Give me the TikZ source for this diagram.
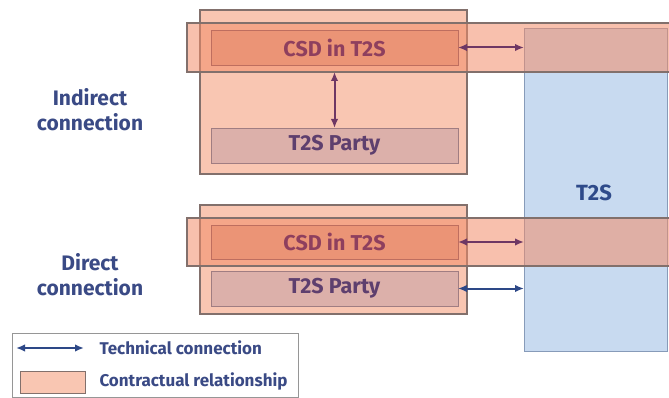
\documentclass[tikz,border=0pt]{standalone}
\usepackage{fontspec}
\setmainfont{Fira Sans}
\usetikzlibrary{arrows.meta,fit}
\definecolor{outerfill}{RGB}{249,198,178}
\definecolor{outerline}{RGB}{130,112,108}
\definecolor{bandfill}{RGB}{242,140,105}
\definecolor{csdfill}{RGB}{235,148,118}
\definecolor{csdline}{RGB}{190,110,95}
\definecolor{csdtext}{RGB}{142,63,94}
\definecolor{partyfill}{RGB}{220,176,170}
\definecolor{partyline}{RGB}{160,125,130}
\definecolor{partytext}{RGB}{94,63,110}
\definecolor{tfill}{RGB}{200,218,240}
\definecolor{tline}{RGB}{135,155,185}
\definecolor{ttext}{RGB}{46,74,138}
\definecolor{labtext}{RGB}{58,74,133}
\definecolor{arrblue}{RGB}{45,72,135}
\definecolor{arrpurple}{RGB}{110,55,100}
\definecolor{legline}{RGB}{150,150,150}
\tikzset{
  boxbase/.style={inner sep=0pt, outer sep=0pt, rectangle},
  outerbox/.style={boxbase, fill=outerfill, draw=outerline, line width=1.2pt},
  bandbox/.style={boxbase, fill=bandfill, fill opacity=0.55, draw=outerline, draw opacity=1, line width=1.2pt},
  csdbox/.style={boxbase, fill=csdfill, draw=csdline, line width=0.8pt},
  partybox/.style={boxbase, fill=partyfill, draw=partyline, line width=0.8pt},
  tbox/.style={boxbase, fill=tfill, draw=tline, line width=1pt},
  legbox/.style={boxbase, fill=white, draw=legline, line width=0.8pt},
  swatch/.style={boxbase, fill=outerfill, draw=outerline, line width=0.8pt},
  csdlabel/.style={font=\bfseries\fontsize{21.5}{24}\selectfont, text=csdtext},
  partylabel/.style={font=\bfseries\fontsize{21.5}{24}\selectfont, text=partytext},
  sidelabel/.style={font=\bfseries\fontsize{21}{25}\selectfont, text=labtext, align=center},
  tlabel/.style={font=\bfseries\fontsize{22}{24}\selectfont, text=ttext},
  leglabel/.style={font=\bfseries\fontsize{17}{19}\selectfont, text=labtext, anchor=west},
  techarrow/.style={{Latex[length=9pt,width=7.5pt]}-{Latex[length=9pt,width=7.5pt]}, line width=2pt},
}
\begin{document}
\begin{tikzpicture}[x=1pt,y=-1pt]
\useasboundingbox (0,0) rectangle (669,398);
% outer contractual boxes
\node[outerbox, fit={(200,10) (467,174)}] (io) {};
\node[outerbox, fit={(200,205) (467,314)}] (do) {};
% T2S
\node[tbox, fit={(524,29) (667,351)}] (t2s) {};
\node[tlabel] (t2slab) at (594,193) {T2S};
% bands
\node[bandbox, fit={(187,23) (690,72)}] (band1) {};
\node[bandbox, fit={(187,218) (690,266)}] (band2) {};
% inner boxes
\node[csdbox, fit={(211,30) (458,65)}] (csd1) {};
\node[csdlabel] (csd1lab) at (csd1.center) {CSD in T2S};
\node[partybox, fit={(211,128) (458,163)}] (party1) {};
\node[partylabel] (party1lab) at (party1.center) {T2S Party};
\node[csdbox, fit={(211,225) (458,259)}] (csd2) {};
\node[csdlabel] (csd2lab) at (csd2.center) {CSD in T2S};
\node[partybox, fit={(211,271) (458,306)}] (party2) {};
\node[partylabel] (party2lab) at (party2.center) {T2S Party};
% connectors
\draw[techarrow, arrpurple] (csd1.east) -- (csd1.east -| t2s.west);
\draw[techarrow, arrpurple] (csd1.south |- band1.south) -- (party1.north);
\draw[techarrow, arrpurple] (csd2.east) -- (csd2.east -| t2s.west);
\draw[techarrow, arrblue] (party2.east) -- (party2.east -| t2s.west);
% side labels
\node[sidelabel] (indirect) at (90,110) {Indirect\\connection};
\node[sidelabel] (direct) at (90,275) {Direct\\connection};
% legend
\node[legbox, fit={(12,333) (298,397.4)}] (legend) {};
\coordinate (la) at (16,348);
\coordinate (lb) at (84,348);
\draw[techarrow, arrblue] (la) -- (lb);
\node[leglabel] (legtech) at (96,348) {Technical connection};
\node[swatch, fit={(20,371) (85,393)}] (sw) {};
\node[leglabel] (legcon) at (96,381) {Contractual relationship};
\end{tikzpicture}
\end{document}
